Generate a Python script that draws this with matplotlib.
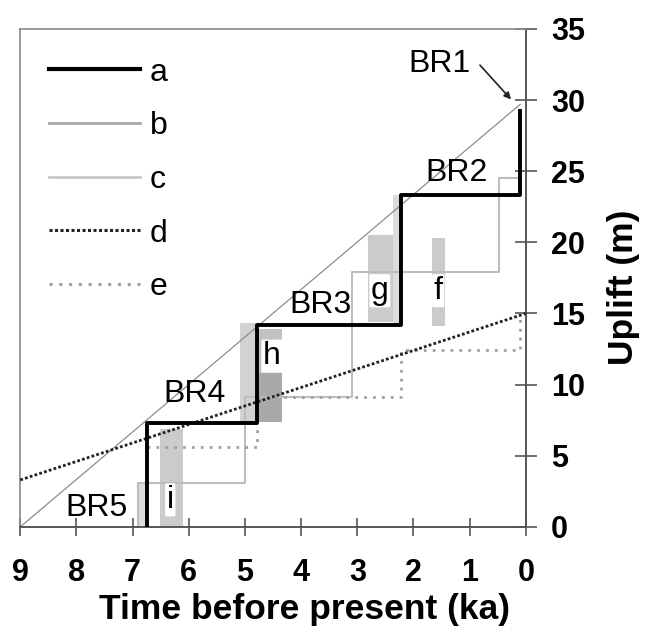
import numpy as np
import matplotlib
matplotlib.use("Agg")
from matplotlib import pyplot as plt
from matplotlib.patches import Rectangle
from matplotlib.lines import Line2D

plt.rcParams['font.family'] = ['Liberation Sans', 'DejaVu Sans']

# series (time before present in ka, uplift in m)
time_a = [6.75, 6.75, 4.78, 4.78, 2.23, 2.23, 0.1, 0.1]
uplift_a = [0, 7.3, 7.3, 14.2, 14.2, 23.3, 23.3, 29.2]
time_b = [9.0, 0.1]
uplift_b = [0.0, 29.7]
time_c = [6.9, 6.9, 5.0, 5.0, 3.1, 3.1, 0.48, 0.48, 0.1]
uplift_c = [0, 3.1, 3.1, 9.1, 9.1, 17.9, 17.9, 24.5, 24.5]
time_d = [9.0, 0.0]
uplift_d = [3.3, 15.0]
time_e = [6.75, 6.75, 4.78, 4.78, 2.23, 2.23, 0.1, 0.1]
uplift_e = [0, 5.6, 5.6, 9.1, 9.1, 12.4, 12.4, 15.0]

# shaded age ranges: (older, younger, bottom, top, grey)
box_t0 = [6.93, 6.52, 5.08, 4.80, 4.80, 2.81, 2.37, 1.67]
box_t1 = [6.75, 6.10, 4.80, 4.34, 4.34, 2.37, 2.23, 1.44]
box_y0 = [0.0, 0.0, 7.4, 7.4, 7.4, 14.4, 14.2, 14.1]
box_y1 = [3.1, 6.9, 14.3, 13.9, 10.8, 20.5, 23.3, 20.3]
box_grey = ['#dcdcdc', '#cbcbcb', '#d2d2d2', '#c2c2c2', '#a9a9a9',
            '#cbcbcb', '#dcdcdc', '#cbcbcb']

box_labels = ['i', 'h', 'g', 'f']
box_label_t = [6.33, 4.52, 2.6, 1.56]
box_label_y = [1.9, 12.0, 16.6, 16.6]

br_labels = ['BR1', 'BR2', 'BR3', 'BR4', 'BR5']
br_t = [1.53, 1.24, 3.66, 5.89, 7.65]
br_y = [32.5, 24.9, 15.6, 9.35, 1.35]

fig = plt.figure(figsize=(6.54, 6.28), dpi=100)
ax = fig.add_axes([0.031, 0.161, 0.773, 0.793])

for t0, t1, y0, y1, g in zip(box_t0, box_t1, box_y0, box_y1, box_grey):
    ax.add_patch(Rectangle((t1, y0), t0 - t1, y1 - y0, facecolor=g,
                           edgecolor='none', zorder=1))

ax.plot(time_b, uplift_b, color='#8c8c8c', lw=0.9, zorder=2)
ax.plot(time_c, uplift_c, color='#bdbdbd', lw=1.5, zorder=2)
ax.plot(time_e, uplift_e, color='#a0a0a0', lw=2.0, ls=(0, (1, 2.2)),
        zorder=3)
ax.plot(time_d, uplift_d, color='#222222', lw=2.0, ls=(0, (1, 0.8)),
        zorder=4)
ax.plot(time_a, uplift_a, color='black', lw=2.8, zorder=5)

for s, t, y in zip(box_labels, box_label_t, box_label_y):
    ax.text(t, y, s, fontsize=23, ha='center', va='center', zorder=6,
            bbox=dict(boxstyle='round,pad=0.05', fc='white', ec='none'))

for s, t, y in zip(br_labels, br_t, br_y):
    ax.text(t, y, s, fontsize=23, ha='center', va='center', zorder=6)

ax.annotate('', xy=(0.23, 29.9), xytext=(0.85, 32.6),
            arrowprops=dict(arrowstyle='-|>', color='#222222', lw=1.2,
                            mutation_scale=10), zorder=6)

ax.set_xlim(9, 0)
ax.set_ylim(0, 35)
ax.set_xticks(np.arange(0, 10, 1))
ax.set_yticks(np.arange(0, 36, 5))
ax.yaxis.tick_right()
ax.yaxis.set_label_position('right')
ax.tick_params(axis='x', direction='inout', length=13, width=1.2,
               color='#555555', pad=16, labelsize=22)
ax.tick_params(axis='y', direction='inout', length=16, width=1.2,
               color='#555555', pad=10, labelsize=22)
for lab in ax.get_xticklabels() + ax.get_yticklabels():
    lab.set_fontweight('bold')

for side in ['left', 'top']:
    ax.spines[side].set_color('#8a8a8a')
    ax.spines[side].set_linewidth(1.2)
for side in ['right', 'bottom']:
    ax.spines[side].set_color('#555555')
    ax.spines[side].set_linewidth(1.4)

ax.set_xlabel('Time before present (ka)', fontsize=25.5, fontweight='bold',
              va='center', ha='center')
ax.xaxis.set_label_coords(0.563, -0.166)
ax.set_ylabel('Uplift (m)', fontsize=25.5, fontweight='bold',
              va='center', ha='center')
ax.yaxis.set_label_coords(1.194, 0.482)

legend_handles = [
    Line2D([], [], color='black', lw=3.0),
    Line2D([], [], color='#a8a8a8', lw=2.0),
    Line2D([], [], color='#c8c8c8', lw=2.0),
    Line2D([], [], color='#222222', lw=2.2, ls=(0, (1, 0.8))),
    Line2D([], [], color='#a0a0a0', lw=2.2, ls=(0, (1, 2.2))),
]
ax.legend(legend_handles, ['a', 'b', 'c', 'd', 'e'],
          loc='upper left', frameon=False, fontsize=23, handlelength=2.85,
          handletextpad=0.3, labelspacing=0.74, borderaxespad=0.5)

fig.savefig('out.png', dpi=100)
